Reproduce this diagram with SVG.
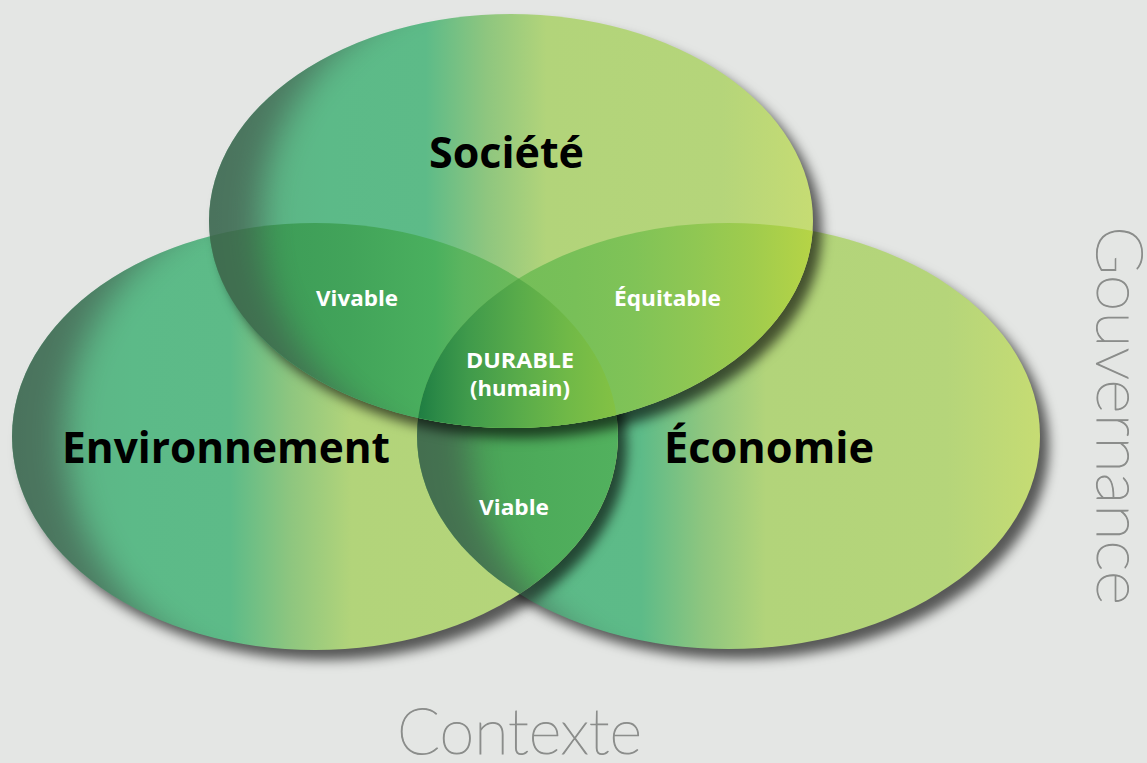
<svg xmlns="http://www.w3.org/2000/svg" width="1147" height="763" viewBox="0 0 1147 763">
<style>
.big{font-family:"Open Sans","Noto Sans","Liberation Sans",sans-serif;font-weight:700;font-size:43px;fill:#000}
.lbl{font-family:"Open Sans","Noto Sans","Liberation Sans",sans-serif;font-weight:700;font-size:21px;fill:#fff}
.thin{font-family:"Lato","Inter","Roboto","Liberation Sans",sans-serif;font-weight:200;fill:#8b8d8b;stroke:#8b8d8b;stroke-width:1.1}
.vig{fill:#43594d;opacity:0.65}
</style>
<defs>
<linearGradient id="gSoc" gradientUnits="userSpaceOnUse" x1="208" y1="0" x2="813" y2="0">
<stop offset="0" stop-color="#5aa47c"/><stop offset="0.12" stop-color="#5cb686"/><stop offset="0.2" stop-color="#5cba88"/><stop offset="0.36" stop-color="#5dbb88"/><stop offset="0.46" stop-color="#8ec67f"/><stop offset="0.56" stop-color="#b2d47a"/><stop offset="0.85" stop-color="#b5d57a"/><stop offset="1" stop-color="#c6dc73"/>
</linearGradient>
<linearGradient id="gEnv" gradientUnits="userSpaceOnUse" x1="12" y1="0" x2="618" y2="0">
<stop offset="0" stop-color="#5aa47c"/><stop offset="0.12" stop-color="#5cb686"/><stop offset="0.2" stop-color="#5cba88"/><stop offset="0.36" stop-color="#5dbb88"/><stop offset="0.46" stop-color="#8ec67f"/><stop offset="0.56" stop-color="#b2d47a"/><stop offset="0.85" stop-color="#b5d57a"/><stop offset="1" stop-color="#bcd877"/>
</linearGradient>
<linearGradient id="gEco" gradientUnits="userSpaceOnUse" x1="417" y1="0" x2="1040" y2="0">
<stop offset="0" stop-color="#5aa47c"/><stop offset="0.12" stop-color="#5cb686"/><stop offset="0.2" stop-color="#5cba88"/><stop offset="0.36" stop-color="#5dbb88"/><stop offset="0.46" stop-color="#8ec67f"/><stop offset="0.56" stop-color="#b2d47a"/><stop offset="0.85" stop-color="#b5d57a"/><stop offset="1" stop-color="#c6dc73"/>
</linearGradient>
<linearGradient id="gViable" gradientUnits="userSpaceOnUse" x1="417" y1="0" x2="618" y2="0">
<stop offset="0" stop-color="#469a55"/><stop offset="0.3" stop-color="#4aa458"/><stop offset="0.6" stop-color="#4dab5a"/><stop offset="1" stop-color="#52b15e"/>
</linearGradient>
<linearGradient id="gVivable" gradientUnits="userSpaceOnUse" x1="208" y1="0" x2="620" y2="0">
<stop offset="0" stop-color="#3a9656"/><stop offset="0.35" stop-color="#42a45a"/><stop offset="0.55" stop-color="#4ab05e"/><stop offset="0.62" stop-color="#5cb55f"/><stop offset="0.75" stop-color="#6cba5a"/><stop offset="1" stop-color="#78be55"/>
</linearGradient>
<linearGradient id="gEquit" gradientUnits="userSpaceOnUse" x1="417" y1="0" x2="813" y2="0">
<stop offset="0" stop-color="#6fba5a"/><stop offset="0.4" stop-color="#78c058"/><stop offset="0.55" stop-color="#80c357"/><stop offset="0.7" stop-color="#8fc753"/><stop offset="0.85" stop-color="#a0cc4d"/><stop offset="1" stop-color="#b6d446"/>
</linearGradient>
<linearGradient id="gDurable" gradientUnits="userSpaceOnUse" x1="417" y1="0" x2="618" y2="0">
<stop offset="0" stop-color="#1e7d42"/><stop offset="0.1" stop-color="#2c8a47"/><stop offset="0.25" stop-color="#3f9a4b"/><stop offset="0.5" stop-color="#58ab4a"/><stop offset="0.75" stop-color="#70b947"/><stop offset="1" stop-color="#84c244"/>
</linearGradient>
<filter id="drop" x="-10%" y="-10%" width="125%" height="130%" color-interpolation-filters="sRGB">
<feGaussianBlur in="SourceAlpha" stdDeviation="6"/>
<feOffset dx="9" dy="10" result="o"/>
<feFlood flood-color="#000" flood-opacity="0.62"/>
<feComposite in2="o" operator="in"/>
<feMerge><feMergeNode/><feMergeNode in="SourceGraphic"/></feMerge>
</filter>
<filter id="soft" x="-20%" y="-20%" width="140%" height="140%"><feGaussianBlur stdDeviation="16"/></filter>
<clipPath id="cEnv"><ellipse cx="315" cy="436.5" rx="303" ry="213.5"/></clipPath>
<clipPath id="cEco"><ellipse cx="728.5" cy="436" rx="311.5" ry="213"/></clipPath>
<mask id="mSoc" maskUnits="userSpaceOnUse" x="0" y="0" width="1147" height="763">
<ellipse cx="511" cy="221" rx="302" ry="207" fill="#fff"/>
<ellipse cx="560" cy="221" rx="300" ry="255" fill="#000" filter="url(#soft)"/>
</mask>
<mask id="mEnv" maskUnits="userSpaceOnUse" x="0" y="0" width="1147" height="763">
<ellipse cx="315" cy="436.5" rx="303" ry="213.5" fill="#fff"/>
<ellipse cx="364" cy="436.5" rx="300" ry="262" fill="#000" filter="url(#soft)"/>
</mask>
<mask id="mEco" maskUnits="userSpaceOnUse" x="0" y="0" width="1147" height="763">
<ellipse cx="728.5" cy="436" rx="311.5" ry="213" fill="#fff"/>
<ellipse cx="778" cy="436" rx="310" ry="262" fill="#000" filter="url(#soft)"/>
</mask>
</defs>
<rect width="1147" height="763" fill="#e4e6e4"/>

<g id="economie">
<ellipse cx="728.5" cy="436" rx="311.5" ry="213" fill="url(#gEco)" filter="url(#drop)"/>
</g>
<g id="environnement">
<ellipse cx="315" cy="436.5" rx="303" ry="213.5" fill="url(#gEnv)" filter="url(#drop)"/>
<rect class="vig" x="0" y="200" width="640" height="470" mask="url(#mEnv)"/>
</g>
<g id="viable">
<ellipse cx="728.5" cy="436" rx="311.5" ry="213" fill="url(#gViable)" clip-path="url(#cEnv)"/>
<rect class="vig" x="400" y="200" width="660" height="470" mask="url(#mEco)"/>
</g>
<g id="societe">
<ellipse cx="511" cy="221" rx="302" ry="207" fill="url(#gSoc)" filter="url(#drop)"/>
</g>
<g id="vivable">
<ellipse cx="511" cy="221" rx="302" ry="207" fill="url(#gVivable)" clip-path="url(#cEnv)"/>
</g>
<g id="equitable">
<ellipse cx="511" cy="221" rx="302" ry="207" fill="url(#gEquit)" clip-path="url(#cEco)"/>
</g>
<rect class="vig" x="190" y="0" width="640" height="440" mask="url(#mSoc)"/>
<g id="durable">
<g clip-path="url(#cEco)">
<ellipse cx="511" cy="221" rx="302" ry="207" fill="url(#gDurable)" clip-path="url(#cEnv)"/>
</g>
</g>
<g id="connectors"/>

<g id="labels">
<text class="big" x="506.5" y="168" text-anchor="middle" textLength="155" lengthAdjust="spacingAndGlyphs">Société</text>
<text class="big" x="62" y="463" textLength="328" lengthAdjust="spacingAndGlyphs">Environnement</text>
<text class="big" x="664" y="463" textLength="210" lengthAdjust="spacingAndGlyphs">Économie</text>
<text class="lbl" x="316" y="306" textLength="82" lengthAdjust="spacingAndGlyphs">Vivable</text>
<text class="lbl" x="614" y="306" textLength="107" lengthAdjust="spacingAndGlyphs">Équitable</text>
<text class="lbl" x="466" y="368" textLength="108" lengthAdjust="spacingAndGlyphs">DURABLE</text>
<text class="lbl" x="470" y="396" textLength="100" lengthAdjust="spacingAndGlyphs">(humain)</text>
<text class="lbl" x="479" y="515" textLength="70" lengthAdjust="spacingAndGlyphs">Viable</text>
</g>
<g id="gouvernance">
<text class="thin" font-size="64" transform="translate(1097 226) rotate(90)" textLength="379" lengthAdjust="spacingAndGlyphs">Gouvernance</text>
</g>
<g id="contexte">
<text class="thin" font-size="64" x="397" y="754" textLength="245" lengthAdjust="spacingAndGlyphs">Contexte</text>
</g>
</svg>
